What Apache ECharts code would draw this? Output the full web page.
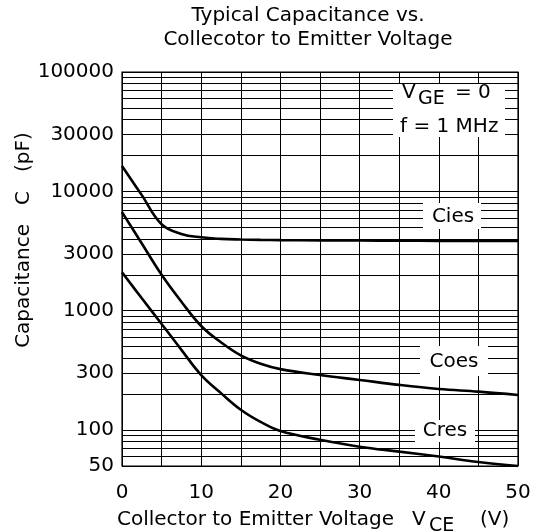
<!DOCTYPE html>
<html><head><meta charset="utf-8">
<script src="https://cdn.jsdelivr.net/npm/echarts@6/dist/echarts.min.js"></script>
<style>html,body{margin:0;padding:0;background:#fff}#c{width:544px;height:532px}</style>
</head><body><div id="c"></div>
<script>
// Data
const vce  = [0, 2.5, 5, 7.5, 10, 12.5, 15, 17.5, 20, 25, 30, 35, 40, 45, 50];
const cies = [16300, 9300, 5300, 4400, 4120, 4000, 3950, 3920, 3900, 3880, 3870, 3860, 3850, 3850, 3850];
const coes = [6700, 3660, 2000, 1190, 745, 543, 422, 359, 324, 289, 263, 239, 221, 210, 197];
const cres = [2100, 1270, 775, 470, 289, 204, 148, 117, 98, 83, 72.6, 66, 60, 54, 50];
const yTickLabels = [50, 100, 300, 1000, 3000, 10000, 30000, 100000];
const yGridValues = [50,60,70,80,90,100,200,300,400,500,600,700,800,900,1000,2000,3000,4000,5000,6000,7000,8000,9000,10000,20000,30000,40000,50000,60000,70000,80000,90000,100000];
const xTickLabels = [0, 10, 20, 30, 40, 50];

const FONT = 'DejaVu Sans';
const chart = echarts.init(document.getElementById('c'), null, {renderer: 'canvas'});
const lineStyle = {color: '#000', width: 2.6};
function mk(name, vals) {
  return {
    name, type: 'line', showSymbol: false, smooth: 0.4, clip: true,
    lineStyle, data: vce.map((x, i) => [x, vals[i]]), z: 5
  };
}
function txt(text, x, y, opts) {
  return Object.assign({
    type: 'text', x, y, z: 20,
    style: Object.assign({text, fill: '#000', font: '20px "' + FONT + '"', textAlign: 'left', textVerticalAlign: 'middle'}, (opts || {}))
  });
}
function box(x1, y1, x2, y2) {
  return {type: 'rect', z: 15, shape: {x: x1, y: y1, width: x2 - x1, height: y2 - y1}, style: {fill: '#fff'}};
}
const gridLine = {show: true, lineStyle: {color: '#000', width: 1}};
chart.setOption({
  animation: false,
  backgroundColor: '#fff',
  grid: {left: 122, right: 26, top: 72, bottom: 66, show: true, borderColor: '#000', borderWidth: 1.2},
  xAxis: {
    type: 'value', min: 0, max: 50, interval: 5,
    axisLine: {show: false}, axisTick: {show: false},
    splitLine: gridLine,
    axisLabel: {customValues: xTickLabels, fontFamily: FONT, fontSize: 20, color: '#000', margin: 17,
                formatter: v => String(v)}
  },
  yAxis: {
    type: 'log', logBase: 10, min: 50, max: 100000,
    axisLine: {show: false},
    axisTick: {show: false, customValues: yGridValues},
    splitLine: gridLine,
    axisLabel: {customValues: yTickLabels, fontFamily: FONT, fontSize: 20, color: '#000', margin: 8, padding: [0, 0, 8, 0],
                formatter: v => String(Math.round(v))}
  },
  series: [mk('Cies', cies), mk('Coes', coes), mk('Cres', cres)],
  graphic: [
    txt('Typical Capacitance vs.', 308, 16, {textAlign: 'center'}),
    txt('Collecotor to Emitter Voltage', 308, 40, {textAlign: 'center'}),
    {type: 'text', x: 24, y: 240, rotation: Math.PI / 2, z: 20,
     style: {text: 'Capacitance   C   (pF)', fill: '#000', font: '20px "' + FONT + '"', textAlign: 'center', textVerticalAlign: 'middle'}},
    txt('Collector to Emitter Voltage', 117, 520),
    txt('V', 412, 520),
    txt('CE', 429, 526, {font: '19px "' + FONT + '"'}),
    txt('(V)', 480, 520),
    box(393, 84, 505, 137),
    txt('V', 402, 93),
    txt('GE', 418, 99, {font: '19px "' + FONT + '"'}),
    txt('= 0', 455, 93),
    txt('f = 1 MHz', 400, 127),
    box(423, 203, 481, 229),
    txt('Cies', 453, 217, {textAlign: 'center'}),
    box(420, 346, 488, 376),
    txt('Coes', 454, 362, {textAlign: 'center'}),
    box(415, 420, 475, 442),
    txt('Cres', 445, 431, {textAlign: 'center'})
  ]
});
</script></body></html>
